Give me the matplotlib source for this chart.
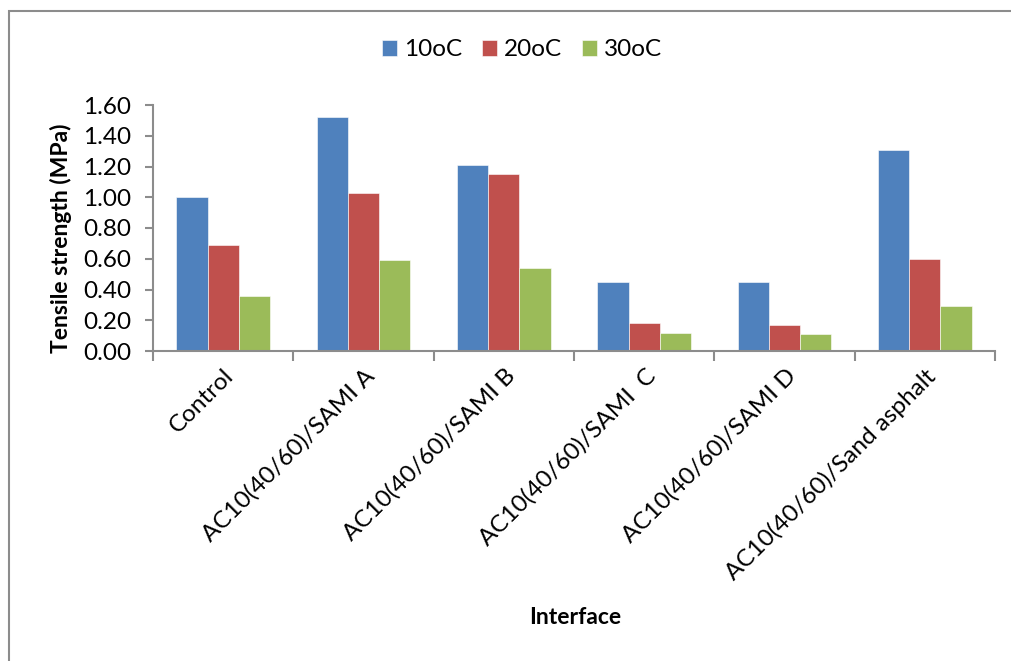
import matplotlib
matplotlib.use("Agg")
import matplotlib.pyplot as plt
import numpy as np
from matplotlib.patches import Rectangle

categories = ["Control", "AC10(40/60)/SAMI A", "AC10(40/60)/SAMI B",
              "AC10(40/60)/SAMI  C", "AC10(40/60)/SAMI D",
              "AC10(40/60)/Sand asphalt"]
series_names = ["10oC", "20oC", "30oC"]
t10 = [1.00, 1.52, 1.21, 0.45, 0.45, 1.31]
t20 = [0.69, 1.03, 1.15, 0.18, 0.17, 0.60]
t30 = [0.36, 0.59, 0.54, 0.12, 0.11, 0.29]
y_ticks = [0.00, 0.20, 0.40, 0.60, 0.80, 1.00, 1.20, 1.40, 1.60]

colors = ["#4F81BD", "#C0504D", "#9BBB59"]
font = ["Lato", "DejaVu Sans"]
plt.rcParams["font.family"] = font

fig = plt.figure(figsize=(10.12, 6.61), dpi=100)
ax = fig.add_axes([153 / 1012, 1 - 351 / 661, (995 - 153) / 1012, (351 - 105) / 661])

# outer chart frame
fig.patches.append(Rectangle((8.5 / 1012, -0.1), 1.2, 1.1 - 11.5 / 661,
                             transform=fig.transFigure, fill=False,
                             edgecolor="#8c8c8c", linewidth=1.5))

x = np.arange(len(categories))
bw = 1 / 4.5
for i, (vals, name, c) in enumerate(zip([t10, t20, t30], series_names, colors)):
    ax.bar(x + (i - 1) * bw, vals, width=bw, color=c, label=name,
           edgecolor="white", linewidth=0.4)

ax.set_xlim(-0.5, len(categories) - 0.5)
ax.set_ylim(0, 1.6)
ax.set_yticks(y_ticks)
ax.set_yticklabels([f"{v:.2f}" for v in y_ticks], fontsize=17.5)
ax.set_xticks(np.arange(len(categories) + 1) - 0.5)
ax.set_xticklabels([])
ax.set_xticks(x, minor=True)
ax.set_xticklabels(categories, minor=True, rotation=45, ha="right", va="top",
                   rotation_mode="anchor", fontsize=17.5)
ax.tick_params(axis="x", which="minor", length=0, pad=10)
ax.tick_params(axis="x", which="major", length=7, color="#8c8c8c", width=1.5)
ax.tick_params(axis="y", length=6, color="#8c8c8c", width=1.5, pad=9.5)

for s in ["top", "right"]:
    ax.spines[s].set_visible(False)
for s in ["left", "bottom"]:
    ax.spines[s].set_color("#8c8c8c")
    ax.spines[s].set_linewidth(1.5)

fig.text(61 / 1012, 1 - 238 / 661, "Tensile strength (MPa)", fontsize=16.5,
         fontweight="bold", rotation=90, ha="center", va="center")
fig.text(575 / 1012, 1 - 618 / 661, "Interface", fontsize=16.5, fontweight="bold",
         ha="center", va="center")

fig.legend(loc="center", bbox_to_anchor=(522 / 1012, 1 - 50 / 661), ncol=3,
           frameon=False, fontsize=17.5, handlelength=0.62, handleheight=0.62,
           handletextpad=0.3, columnspacing=0.8)

fig.savefig("out.png", dpi=100)
